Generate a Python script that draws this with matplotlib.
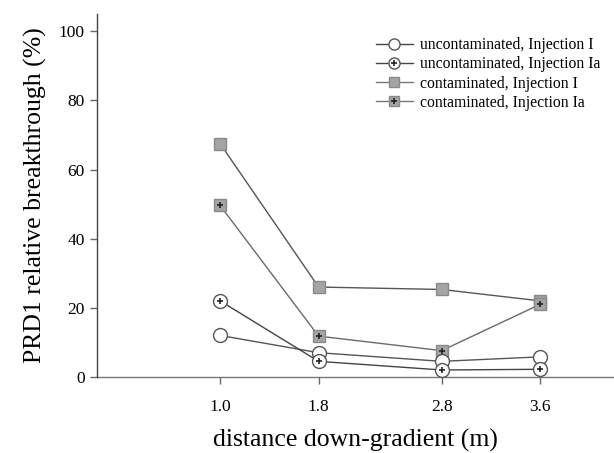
import matplotlib
matplotlib.use('Agg')
import matplotlib.pyplot as plt
from matplotlib.lines import Line2D

plt.rcParams['font.family'] = ['Liberation Serif', 'DejaVu Serif']

# data
distance = [1.0, 1.8, 2.8, 3.6]
uncontam_I = [12, 7, 4.5, 5.8]
uncontam_Ia = [22, 4.5, 2, 2.2]
contam_I = [67.5, 26, 25.3, 22]
contam_Ia = [49.6, 11.8, 7.6, 21]
x_ticks = [1.0, 1.8, 2.8, 3.6]
x_tick_labels = ['1.0', '1.8', '2.8', '3.6']
y_ticks = [0, 20, 40, 60, 80, 100]
labels = ['uncontaminated, Injection I', 'uncontaminated, Injection Ia',
          'contaminated, Injection I', 'contaminated, Injection Ia']

fig = plt.figure(figsize=(6.14, 4.53), dpi=100)
ax = fig.add_axes([0.158, 0.168, 0.842, 0.801])

circ = dict(marker='o', markerfacecolor='white',
            markeredgecolor='#555555', markeredgewidth=1.0)
sq = dict(marker='s', markerfacecolor='#a4a4a4',
          markeredgecolor='#8a8a8a', markeredgewidth=1.0)
plus = dict(marker='+', color='#222222', markeredgewidth=1.2, linestyle='none')

ax.plot(distance, contam_I, color='#555555', lw=1.0, zorder=2, markersize=9, **sq)
ax.plot(distance, contam_Ia, color='#6a6a6a', lw=1.0, zorder=2, markersize=9, **sq)
ax.plot(distance, contam_Ia, zorder=3, markersize=4.5, **plus)
ax.plot(distance, uncontam_I, color='#555555', lw=1.0, zorder=4, markersize=10, **circ)
ax.plot(distance, uncontam_Ia, color='#444444', lw=1.0, zorder=5, markersize=10, **circ)
ax.plot(distance, uncontam_Ia, zorder=6, markersize=4.5, **plus)

ax.set_xlim(0, 4.2)
ax.set_ylim(0, 105)
ax.set_xticks(x_ticks)
ax.set_xticklabels(x_tick_labels)
ax.set_yticks(y_ticks)

for s in ['top', 'right']:
    ax.spines[s].set_visible(False)
ax.spines['left'].set_color('#444444')
ax.spines['bottom'].set_color('#777777')
ax.spines['left'].set_linewidth(1.0)
ax.spines['bottom'].set_linewidth(1.0)
ax.spines['bottom'].set_zorder(1)

ax.tick_params(axis='both', direction='out', length=5, width=1,
               color='#666666', labelsize=12.5)
ax.tick_params(axis='x', pad=11)
ax.tick_params(axis='y', pad=4)

ax.set_xlabel('distance down-gradient (m)', fontsize=18.5, labelpad=10)
ax.set_ylabel('PRD1 relative breakthrough (%)', fontsize=18.5, labelpad=8)

# legend proxies with their own (smaller) marker sizes
lc = Line2D([], [], color='#444444', lw=1.0, markersize=8, **circ)
ls = Line2D([], [], color='#777777', lw=1.0, markersize=7, **sq)
lp = Line2D([], [], markersize=4.5, **plus)
handles = [lc, (lc, lp), ls, (ls, lp)]
ax.legend(handles, labels, loc='upper right', bbox_to_anchor=(1.0, 0.975),
          frameon=False, fontsize=11.3, handlelength=2.4, handletextpad=0.4,
          labelspacing=0.2)

fig.savefig('out.png', dpi=100)
